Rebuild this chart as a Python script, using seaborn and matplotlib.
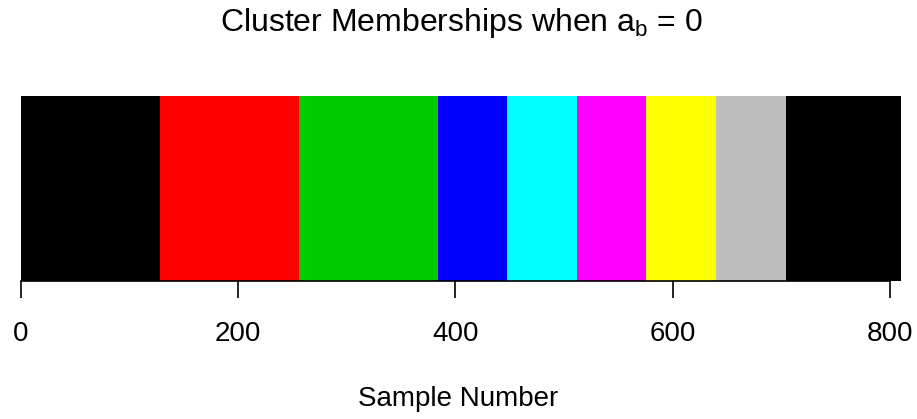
import matplotlib
matplotlib.use("Agg")
import matplotlib.pyplot as plt
import numpy as np
import pandas as pd
import seaborn as sns

# cluster segments along the sample axis
seg_start = [0, 128, 256, 384, 448, 512, 576, 640, 704]
seg_end = [128, 256, 384, 448, 512, 576, 640, 704, 810]
seg_cluster = [1, 2, 3, 4, 5, 6, 7, 8, 1]
x_ticks = [0, 200, 400, 600, 800]

# R default palette
palette = {1: "black", 2: "#FF0000", 3: "#00CD00", 4: "#0000FF",
           5: "#00FFFF", 6: "#FF00FF", 7: "#FFFF00", 8: "#BEBEBE"}

df = pd.DataFrame({"start": seg_start, "end": seg_end, "cluster": seg_cluster})
df["width"] = df["end"] - df["start"]

sns.set_style("white")
plt.rcParams["font.family"] = ["Liberation Sans", "DejaVu Sans"]
plt.rcParams["mathtext.fontset"] = "custom"
plt.rcParams["mathtext.rm"] = "Liberation Sans"
plt.rcParams["mathtext.it"] = "Liberation Sans"
plt.rcParams["text.color"] = "black"

fig = plt.figure(figsize=(9.17, 4.19), dpi=100)
ax = fig.add_axes([20.7 / 917, 0.3305, 880 / 917, 0.4415])

ax.barh(0, df["width"], left=df["start"], height=1,
        color=[palette[c] for c in df["cluster"]], edgecolor="none")

ax.set_xlim(0, 810)
ax.set_ylim(-0.5, 0.5)
ax.set_yticks([])
ax.set_xticks(x_ticks)
ax.set_xticklabels([str(t) for t in x_ticks], fontsize=20, color="black")
ax.tick_params(axis="x", direction="out", length=12, width=1.2, pad=17.2,
               colors="black", bottom=True)
for s in ["top", "right", "left"]:
    ax.spines[s].set_visible(False)
ax.spines["bottom"].set_bounds(0, 800)
ax.spines["bottom"].set_linewidth(1.2)
ax.spines["bottom"].set_color("black")

fig.text(461 / 917, 1 - 30.7 / 419, r"Cluster Memberships when $\mathregular{a_b}$ = 0",
         ha="center", va="baseline", fontsize=23, color="black")
fig.text(0.5, 1 - 405.7 / 419, "Sample Number", ha="center", va="baseline",
         fontsize=20, color="black")

fig.savefig("out.png", dpi=100)
